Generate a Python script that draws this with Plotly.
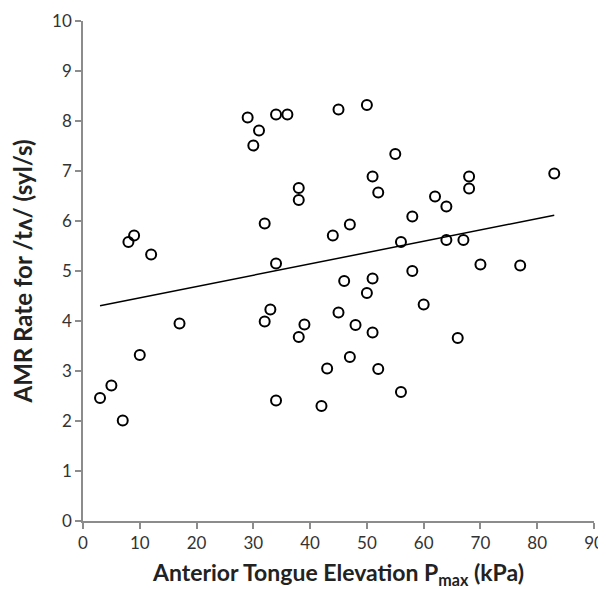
import numpy as np
import plotly.graph_objects as go

pmax_kpa = [3, 5, 7, 8, 9, 10, 12, 17, 29, 30, 31, 32, 32, 33, 34, 34, 34, 36,
            38, 38, 38, 39, 42, 43, 44, 45, 45, 46, 47, 47, 48, 50, 50, 51, 51,
            51, 52, 52, 55, 56, 56, 58, 58, 60, 62, 64, 64, 66, 67, 68, 68, 70,
            77, 83]
amr_rate = [2.46, 2.71, 2.01, 5.58, 5.71, 3.32, 5.33, 3.95, 8.07, 7.51, 7.81,
            5.95, 3.99, 4.23, 8.13, 5.15, 2.41, 8.13, 6.66, 6.42, 3.68, 3.93,
            2.30, 3.05, 5.71, 8.23, 4.17, 4.80, 5.93, 3.28, 3.92, 8.32, 4.56,
            6.89, 4.85, 3.77, 6.57, 3.04, 7.34, 5.58, 2.58, 6.09, 5.00, 4.33,
            6.49, 6.29, 5.62, 3.66, 5.62, 6.89, 6.65, 5.13, 5.11, 6.95]

x_ticks = [0, 10, 20, 30, 40, 50, 60, 70, 80, 90]
y_ticks = [0, 1, 2, 3, 4, 5, 6, 7, 8, 9, 10]

# Linear trendline fitted from the data
slope, intercept = np.polyfit(pmax_kpa, amr_rate, 1)
trend_x = [min(pmax_kpa), max(pmax_kpa)]
trend_y = [slope * v + intercept for v in trend_x]

FONT = "Lato, Open Sans, sans-serif"

fig = go.Figure()
fig.add_trace(go.Scatter(
    x=pmax_kpa, y=amr_rate, mode="markers",
    marker=dict(symbol="circle-open", size=10, color="black",
                line=dict(width=2, color="black")),
    showlegend=False, hoverinfo="x+y"))
fig.add_trace(go.Scatter(
    x=trend_x, y=trend_y, mode="lines",
    line=dict(color="black", width=1.5), showlegend=False))

axis_common = dict(
    showgrid=False, zeroline=False, showline=True, linecolor="#8c8c8c",
    linewidth=1.5, ticks="outside", ticklen=6, tickcolor="#8c8c8c",
    tickwidth=1.5, automargin=False,
    tickfont=dict(family=FONT, size=17, color="#333333"))

fig.update_xaxes(range=[0, 90], tickvals=x_ticks, **axis_common,
                 title=dict(text="Anterior Tongue Elevation P<sub>max</sub> (kPa)",
                            font=dict(family=FONT, size=23, color="#222222",
                                      weight="bold"),
                            standoff=14))
fig.update_yaxes(range=[0, 10], tickvals=y_ticks, **axis_common,
                 title=dict(text="AMR Rate for /tʌ/ (syl/s)",
                            font=dict(family=FONT, size=24, color="#222222",
                                      weight="bold"),
                            standoff=15))

# page body adds an 8px offset, so the figure is 598x581
fig.update_layout(
    width=598, height=581,
    margin=dict(l=75, r=12, t=13, b=68),
    paper_bgcolor="white", plot_bgcolor="white",
    font=dict(family=FONT))

fig.write_html("out.html")
